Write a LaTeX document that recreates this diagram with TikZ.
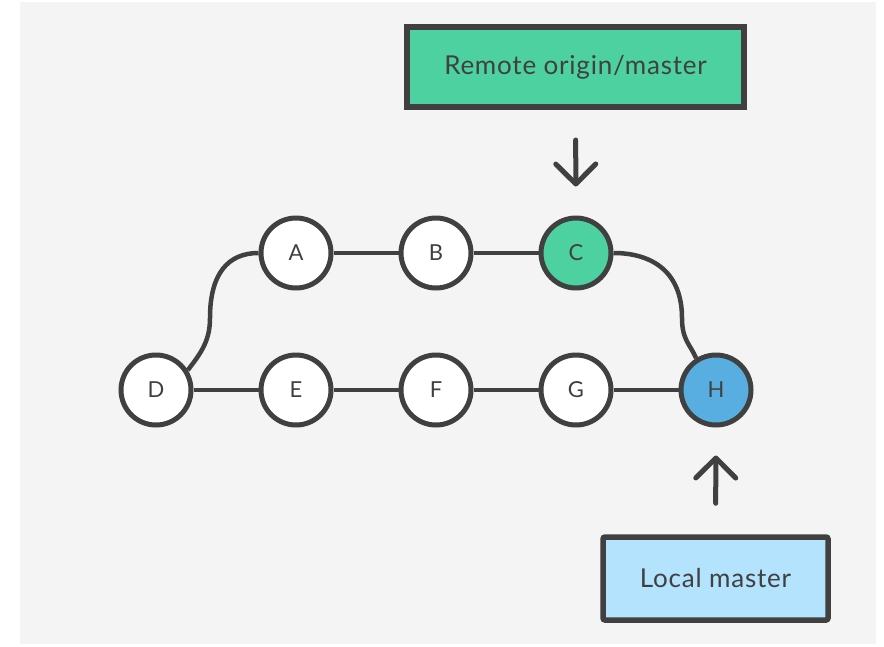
\documentclass[tikz,border=0pt]{standalone}
\usepackage{fontspec}
\setmainfont{Lato}
\newfontfamily\boxfont[LetterSpace=3]{Lato}
\usetikzlibrary{arrows.meta}
\definecolor{ink}{HTML}{404040}
\definecolor{bggray}{HTML}{F4F4F4}
\definecolor{commitgreen}{HTML}{4DD1A0}
\definecolor{commitblue}{HTML}{58AEE0}
\definecolor{lightblue}{HTML}{B3E3FD}
\tikzset{
  commit/.style={circle, draw=ink, line width=5pt, fill=white, minimum size=70pt, inner sep=0pt,
    text=ink, font=\fontsize{22}{26}\selectfont},
  edge/.style={draw=ink, line width=4.5pt},
  label box/.style={draw=ink, line width=6pt, text=ink, inner sep=0pt,
    font=\boxfont\fontsize{26}{30}\selectfont},
  pointer/.style={draw=ink, line width=5pt, line cap=round,
    -{Straight Barb[length=20pt, width=40pt, round]}},
}
\begin{document}
\begin{tikzpicture}[x=1pt, y=-1pt]
\useasboundingbox (0,0) rectangle (884,646);
\fill[bggray] (20,2) rectangle (876,644);
% commits
\node[commit] (A) at (296,253) {A};
\node[commit] (B) at (436,253) {B};
\node[commit, fill=commitgreen] (C) at (576,253) {C};
\node[commit] (D) at (156,390) {D};
\node[commit] (E) at (296,390) {E};
\node[commit] (F) at (436,390) {F};
\node[commit] (G) at (576,390) {G};
\node[commit, fill=commitblue] (H) at (716,390) {H};
% branch labels
\node[label box, fill=commitgreen, minimum width=337pt, minimum height=80pt] (remote) at (575.5,67) {Remote origin/master};
\node[label box, fill=lightblue, line width=5.5pt, rounded corners=2pt, minimum width=225pt, minimum height=83pt] (local) at (715.5,578.5) {Local master};
% connectors
\draw[edge] (A) -- (B);
\draw[edge] (B) -- (C);
\draw[edge] (D) -- (E);
\draw[edge] (E) -- (F);
\draw[edge] (F) -- (G);
\draw[edge] (G) -- (H);
\coordinate (dmid) at (210,318);
\coordinate (cmid) at (682,318);
\draw[edge] (D.32) .. controls +(14,-18) and +(0,22) .. (dmid) .. controls +(0,-45) and +(-30,0) .. (A.west);
\draw[edge] (C.east) .. controls +(40,0) and +(0,-45) .. (cmid) .. controls +(0,22) and +(-6,-14) .. (H.122);
% pointers
\draw[pointer, shorten <=30pt, shorten >=29pt] (remote) -- (C);
\draw[pointer, shorten <=31pt, shorten >=28pt] (local) -- (H);
\end{tikzpicture}
\end{document}
